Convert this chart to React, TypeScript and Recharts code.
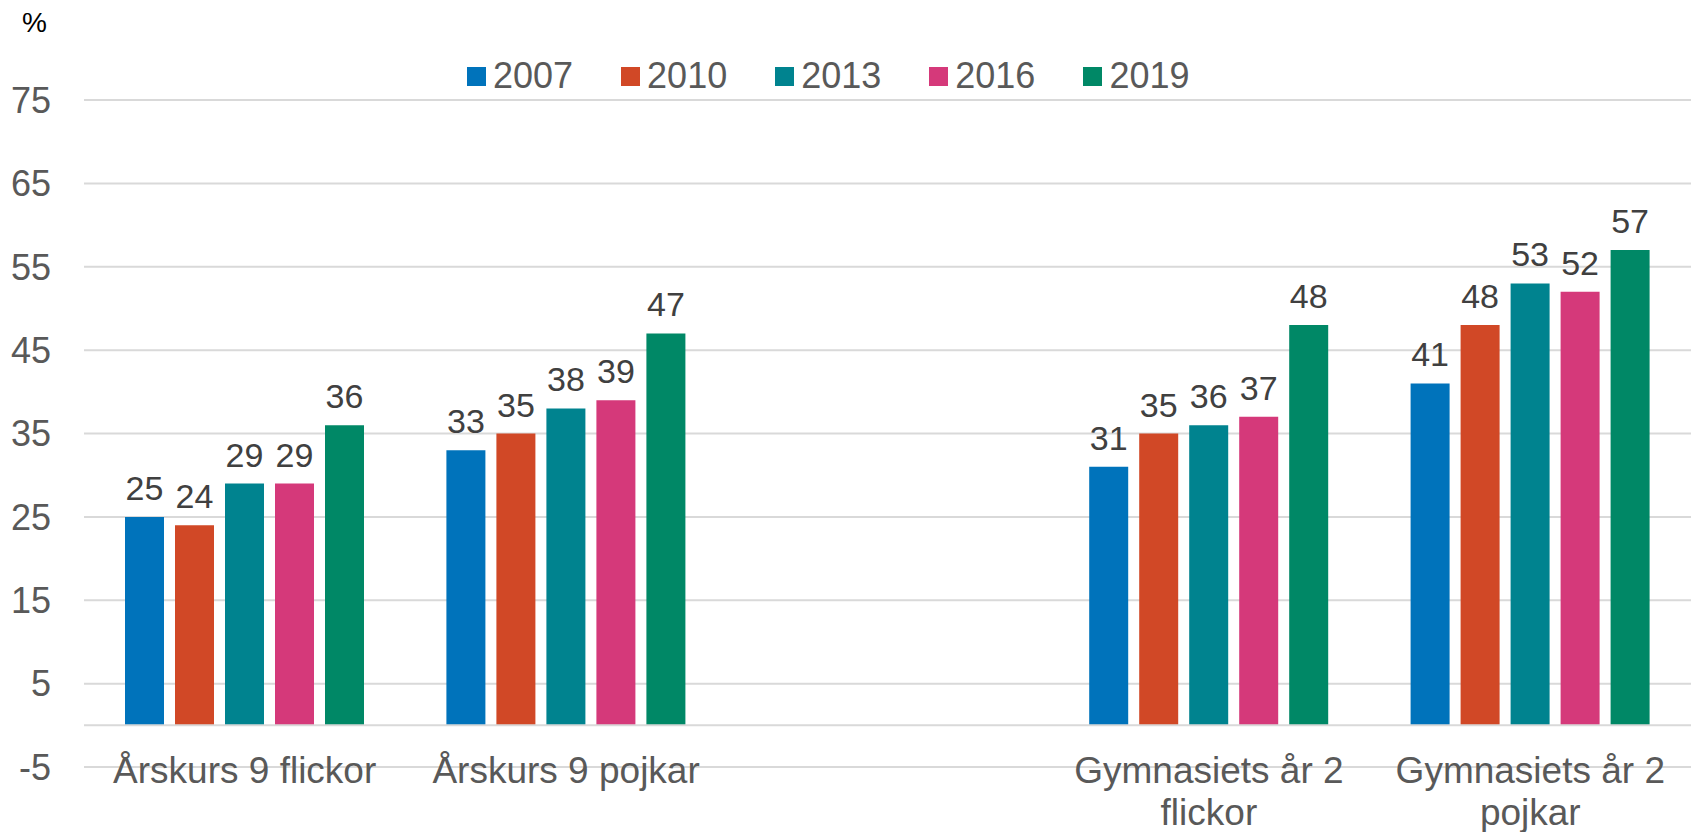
import { BarChart, Bar, XAxis, YAxis, CartesianGrid, ReferenceLine, LabelList } from "recharts";

const categories = ["Årskurs 9 flickor", "Årskurs 9 pojkar", "", "Gymnasiets år 2 flickor", "Gymnasiets år 2 pojkar"];
const categoryLines = [["Årskurs 9 flickor"], ["Årskurs 9 pojkar"], [], ["Gymnasiets år 2", "flickor"], ["Gymnasiets år 2", "pojkar"]];
const years = ["2007", "2010", "2013", "2016", "2019"];
const v2007 = [25, 33, null, 31, 41];
const v2010 = [24, 35, null, 35, 48];
const v2013 = [29, 38, null, 36, 53];
const v2016 = [29, 39, null, 37, 52];
const v2019 = [36, 47, null, 48, 57];
const yTicks = [-5, 5, 15, 25, 35, 45, 55, 65, 75];

const COLORS: Record<string, string> = {
  "2007": "#0073bb", "2010": "#d14826", "2013": "#00838f",
  "2016": "#d5397a", "2019": "#008866",
};

const series: Record<string, (number | null)[]> = {
  "2007": v2007, "2010": v2010, "2013": v2013, "2016": v2016, "2019": v2019,
};

const data = categories.map((c, i) => {
  const row: Record<string, string | number | null> = { cat: c };
  years.forEach((y) => { row[y] = series[y][i]; });
  return row;
});

const FONT = "'Liberation Sans', Arial, sans-serif";

function CatTick(props: any) {
  const { x, y, index } = props;
  const lines = categoryLines[index] ?? [];
  return (
    <text x={x} y={y + 16} textAnchor="middle" fill="#595959" fontSize={37} fontFamily={FONT}>
      {lines.map((l, i) => (
        <tspan key={i} x={x} dy={i === 0 ? 0 : 42}>{l}</tspan>
      ))}
    </text>
  );
}

export default function App() {
  return (
    <div style={{ position: "relative", width: 1694, height: 832, fontFamily: FONT, background: "#fff" }}>
      <style>{`body{margin:0}`}</style>
      <div style={{ position: "absolute", left: 22, top: 9, fontSize: 28, lineHeight: "28px", color: "#000" }}>%</div>
      <div style={{ position: "absolute", left: 467, top: 56, height: 40, display: "flex", alignItems: "center", zIndex: 2 }}>
        {years.map((y) => (
          <div key={y} style={{ display: "flex", alignItems: "center", marginRight: 48 }}>
            <span style={{ display: "inline-block", width: 19, height: 19, background: COLORS[y], marginRight: 7 }} />
            <span style={{ fontSize: 36, lineHeight: "40px", color: "#595959" }}>{y}</span>
          </div>
        ))}
      </div>
      <BarChart width={1694} height={832} data={data} margin={{ top: 100, right: 3, bottom: 0, left: 0 }}
        barSize={39} barGap={11}>
        <CartesianGrid vertical={false} stroke="#d9d9d9" strokeWidth={2} />
        <XAxis dataKey="cat" height={65} axisLine={false} tickLine={false} tickSize={0} tickMargin={0}
          interval={0} tick={<CatTick />} />
        <YAxis width={84} domain={[-5, 75]} ticks={yTicks} axisLine={false} tickLine={false}
          tickSize={0} tickMargin={33} tick={{ fill: "#595959", fontSize: 36, fontFamily: FONT }} />
        <ReferenceLine y={0} stroke="#d9d9d9" strokeWidth={2} />
        {years.map((y) => (
          <Bar key={y} dataKey={y} fill={COLORS[y]} isAnimationActive={false}>
            <LabelList dataKey={y} position="top" offset={17} fill="#404040" fontSize={34} fontFamily={FONT} />
          </Bar>
        ))}
      </BarChart>
    </div>
  );
}
